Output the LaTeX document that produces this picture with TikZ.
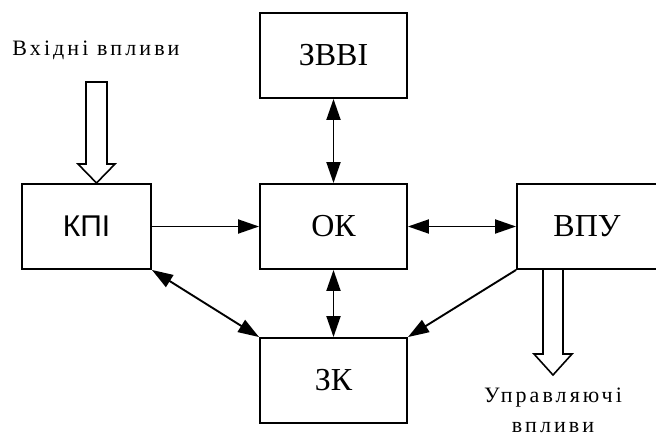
\documentclass[tikz,border=0pt]{standalone}
\usepackage{fontspec}
\setmainfont{Liberation Serif}
\newfontfamily\sansf{Liberation Sans}
\usetikzlibrary{arrows.meta}
\begin{document}
\begin{tikzpicture}[x=1pt,y=-1pt,
  blk/.style={draw,line width=1.9pt,minimum width=147pt,minimum height=85pt,inner sep=0pt,font=\fontsize{32}{36}\selectfont},
  conn/.style={line width=1.9pt,-{Triangle[length=21pt,width=14pt]}},
  bconn/.style={line width=1.9pt,{Triangle[length=21pt,width=14pt]}-{Triangle[length=21pt,width=14pt]}},
  hollow/.style={draw,line width=1.6pt,fill=white},
  lbl/.style={font=\addfontfeature{LetterSpace=14}\fontsize{22}{30}\selectfont,align=center,inner sep=0pt}]
\useasboundingbox (0,0) rectangle (656,437);
\node[blk] (zvvi) at (333.5,55.5) {ЗВВІ};
\node[blk] (ok) at (333.5,226.5) {ОК};
\node[blk] (zk) at (333.5,380.5) {ЗК};
\node[blk,minimum width=129pt,font=\sansf\fontsize{30}{36}\selectfont] (kpi) at (86.5,226.5) {КПІ};
\node[blk,minimum width=140pt] (vpu) at (587,226.5) {ВПУ};
% hollow arrows
\draw[hollow] (86,82) -- (107,82) -- (107,164) -- (115,164) -- (96.5,183) -- (78,164) -- (86,164) -- cycle;
\draw[hollow] (543,269) -- (563,269) -- (563,354) -- (572,354) -- (553,375) -- (534,354) -- (543,354) -- cycle;
\node[lbl] (inlbl) at (96,50) {Вхідні впливи};
\node[lbl] (outlbl) at (553,410) {Управляючі\\впливи};
% connectors
\draw[bconn] (zvvi.south) -- (ok.north);
\draw[conn] (kpi.east) -- (ok.west);
\draw[bconn] (ok.east) -- (vpu.west);
\draw[bconn] (ok.south) -- (zk.north);
\draw[bconn] (kpi.south east) -- (zk.north west);
\draw[conn] (vpu.south west) -- (zk.north east);
\end{tikzpicture}
\end{document}
